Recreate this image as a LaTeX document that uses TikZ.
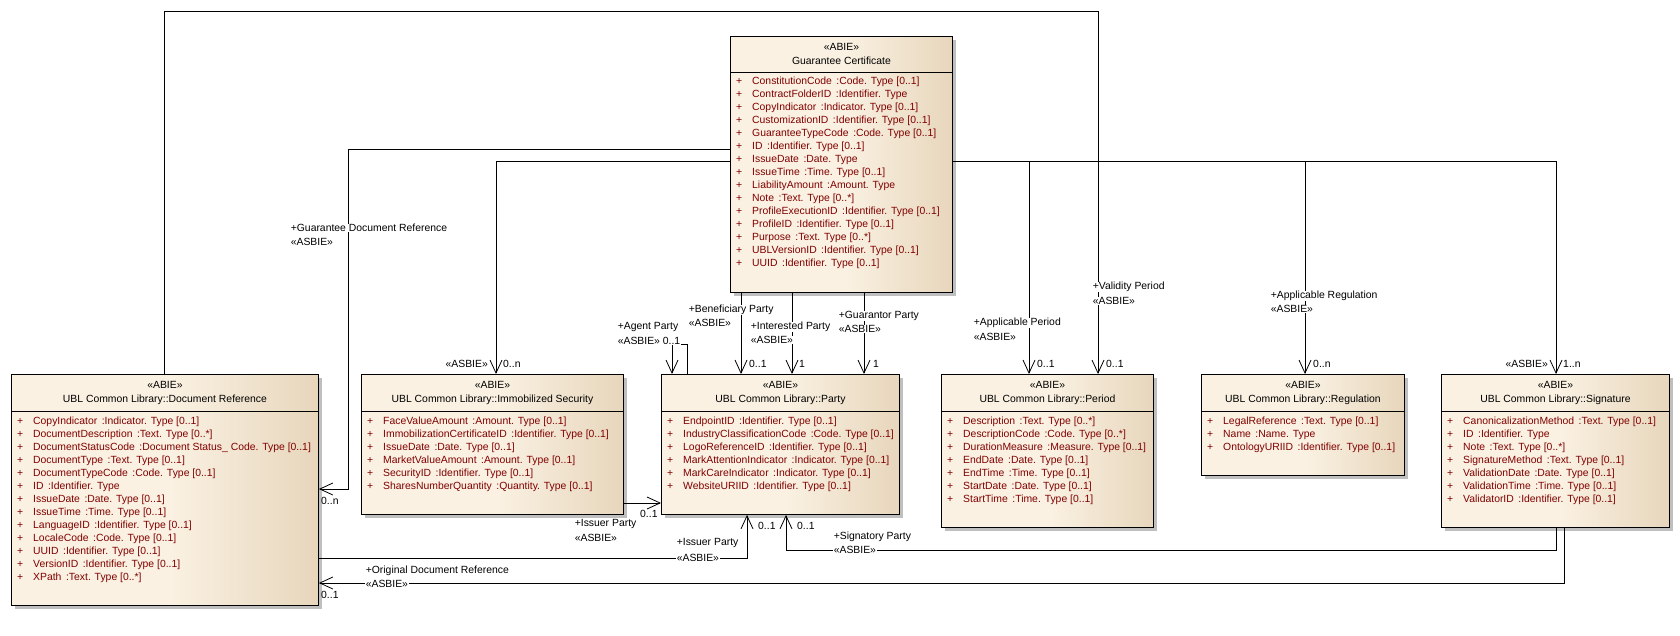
\documentclass[tikz,border=0pt]{standalone}
\usepackage{fontspec}
\setmainfont{Liberation Sans}
\usetikzlibrary{arrows.meta,shadows}
\definecolor{boxlight}{RGB}{250,241,226}
\definecolor{boxdark}{RGB}{231,214,188}
\definecolor{attrred}{RGB}{128,0,0}
\pgfdeclarehorizontalshading{classshade}{100bp}{color(0bp)=(boxlight); color(25bp)=(boxlight); color(51bp)=(boxlight); color(75bp)=(boxdark); color(100bp)=(boxdark)}
\begin{document}
\begin{tikzpicture}[x=1pt,y=-1pt,font=\fontsize{10.4}{12}\selectfont,
    classbox/.style={draw, line width=0.9pt, anchor=north west, inner sep=0pt, shade, shading=classshade,
        drop shadow={shadow xshift=4pt, shadow yshift=-4pt, fill=black!25, opacity=1}},
    attr/.style={anchor=west, inner sep=0pt, text=attrred},
    assoc/.style={line width=0.8pt, -{Straight Barb[length=13pt,width=12pt]}},
    lbl/.style={anchor=west, inner sep=0.6pt, fill=white},
    mult/.style={anchor=west, inner sep=0pt}]
    \fill[white] (0,0) rectangle (1680,635);

    % classes
    \node[classbox, minimum width=222pt, minimum height=256pt] (gc) at (730,36) {};
    \draw[line width=0.9pt] ([yshift=-36pt]gc.north west) -- ([yshift=-36pt]gc.north east);
    \node (gcst) at ([yshift=-11pt]gc.north) {«ABIE»};
    \node (gcname) at ([yshift=-25pt]gc.north) {Guarantee Certificate};
    \foreach \n/\t [count=\i] in {ConstitutionCode/Code. Type [0..1], ContractFolderID/Identifier. Type,
        CopyIndicator/Indicator. Type [0..1], CustomizationID/Identifier. Type [0..1],
        GuaranteeTypeCode/Code. Type [0..1], ID/Identifier. Type [0..1], IssueDate/Date. Type,
        IssueTime/Time. Type [0..1], LiabilityAmount/Amount. Type, Note/Text. Type [0..*],
        ProfileExecutionID/Identifier. Type [0..1], ProfileID/Identifier. Type [0..1],
        Purpose/Text. Type [0..*], UBLVersionID/Identifier. Type [0..1], UUID/Identifier. Type [0..1]}
        \node[attr] (gca\i) at ([xshift=6pt, yshift={-46pt-13pt*(\i-1)}]gc.north west) {\makebox[16pt][l]{+}\n\hspace{4.5pt}:\t};

    \node[classbox, minimum width=307pt, minimum height=231pt] (docref) at (11,374) {};
    \draw[line width=0.9pt] ([yshift=-37pt]docref.north west) -- ([yshift=-37pt]docref.north east);
    \node (docrefst) at ([yshift=-11pt]docref.north) {«ABIE»};
    \node (docrefname) at ([yshift=-26pt]docref.north) {UBL Common Library::Document Reference};
    \foreach \n/\t [count=\i] in {CopyIndicator/Indicator. Type [0..1], DocumentDescription/Text. Type [0..*],
        DocumentStatusCode/Document Status\_ Code. Type [0..1], DocumentType/Text. Type [0..1],
        DocumentTypeCode/Code. Type [0..1], ID/Identifier. Type, IssueDate/Date. Type [0..1],
        IssueTime/Time. Type [0..1], LanguageID/Identifier. Type [0..1], LocaleCode/Code. Type [0..1],
        UUID/Identifier. Type [0..1], VersionID/Identifier. Type [0..1], XPath/Text. Type [0..*]}
        \node[attr] (docrefa\i) at ([xshift=6pt, yshift={-48pt-13pt*(\i-1)}]docref.north west) {\makebox[16pt][l]{+}\n\hspace{4.5pt}:\t};

    \node[classbox, minimum width=262pt, minimum height=140pt] (immsec) at (361,374) {};
    \draw[line width=0.9pt] ([yshift=-37pt]immsec.north west) -- ([yshift=-37pt]immsec.north east);
    \node (immsecst) at ([yshift=-11pt]immsec.north) {«ABIE»};
    \node (immsecname) at ([yshift=-26pt]immsec.north) {UBL Common Library::Immobilized Security};
    \foreach \n/\t [count=\i] in {FaceValueAmount/Amount. Type [0..1], ImmobilizationCertificateID/Identifier. Type [0..1],
        IssueDate/Date. Type [0..1], MarketValueAmount/Amount. Type [0..1], SecurityID/Identifier. Type [0..1],
        SharesNumberQuantity/Quantity. Type [0..1]}
        \node[attr] (immseca\i) at ([xshift=6pt, yshift={-48pt-13pt*(\i-1)}]immsec.north west) {\makebox[16pt][l]{+}\n\hspace{4.5pt}:\t};

    \node[classbox, minimum width=238pt, minimum height=140pt] (party) at (661,374) {};
    \draw[line width=0.9pt] ([yshift=-37pt]party.north west) -- ([yshift=-37pt]party.north east);
    \node (partyst) at ([yshift=-11pt]party.north) {«ABIE»};
    \node (partyname) at ([yshift=-26pt]party.north) {UBL Common Library::Party};
    \foreach \n/\t [count=\i] in {EndpointID/Identifier. Type [0..1], IndustryClassificationCode/Code. Type [0..1],
        LogoReferenceID/Identifier. Type [0..1], MarkAttentionIndicator/Indicator. Type [0..1],
        MarkCareIndicator/Indicator. Type [0..1], WebsiteURIID/Identifier. Type [0..1]}
        \node[attr] (partya\i) at ([xshift=6pt, yshift={-48pt-13pt*(\i-1)}]party.north west) {\makebox[16pt][l]{+}\n\hspace{4.5pt}:\t};

    \node[classbox, minimum width=212pt, minimum height=153pt] (period) at (941,374) {};
    \draw[line width=0.9pt] ([yshift=-37pt]period.north west) -- ([yshift=-37pt]period.north east);
    \node (periodst) at ([yshift=-11pt]period.north) {«ABIE»};
    \node (periodname) at ([yshift=-26pt]period.north) {UBL Common Library::Period};
    \foreach \n/\t [count=\i] in {Description/Text. Type [0..*], DescriptionCode/Code. Type [0..*],
        DurationMeasure/Measure. Type [0..1], EndDate/Date. Type [0..1], EndTime/Time. Type [0..1],
        StartDate/Date. Type [0..1], StartTime/Time. Type [0..1]}
        \node[attr] (perioda\i) at ([xshift=6pt, yshift={-48pt-13pt*(\i-1)}]period.north west) {\makebox[16pt][l]{+}\n\hspace{4.5pt}:\t};

    \node[classbox, minimum width=203pt, minimum height=101pt] (regulation) at (1201,374) {};
    \draw[line width=0.9pt] ([yshift=-37pt]regulation.north west) -- ([yshift=-37pt]regulation.north east);
    \node (regulationst) at ([yshift=-11pt]regulation.north) {«ABIE»};
    \node (regulationname) at ([yshift=-26pt]regulation.north) {UBL Common Library::Regulation};
    \foreach \n/\t [count=\i] in {LegalReference/Text. Type [0..1], Name/Name. Type, OntologyURIID/Identifier. Type [0..1]}
        \node[attr] (regulationa\i) at ([xshift=6pt, yshift={-48pt-13pt*(\i-1)}]regulation.north west) {\makebox[16pt][l]{+}\n\hspace{4.5pt}:\t};

    \node[classbox, minimum width=228pt, minimum height=153pt] (signature) at (1441,374) {};
    \draw[line width=0.9pt] ([yshift=-37pt]signature.north west) -- ([yshift=-37pt]signature.north east);
    \node (signaturest) at ([yshift=-11pt]signature.north) {«ABIE»};
    \node (signaturename) at ([yshift=-26pt]signature.north) {UBL Common Library::Signature};
    \foreach \n/\t [count=\i] in {CanonicalizationMethod/Text. Type [0..1], ID/Identifier. Type, Note/Text. Type [0..*],
        SignatureMethod/Text. Type [0..1], ValidationDate/Date. Type [0..1], ValidationTime/Time. Type [0..1],
        ValidatorID/Identifier. Type [0..1]}
        \node[attr] (signaturea\i) at ([xshift=6pt, yshift={-48pt-13pt*(\i-1)}]signature.north west) {\makebox[16pt][l]{+}\n\hspace{4.5pt}:\t};

    % associations
    \draw[assoc] (gc.west |- 0,149) -- (348,149) -- (348,489) -- (docref.east |- 0,489);
    \draw[assoc] (gc.west |- 0,161) -| (immsec.north -| 496,0);
    \draw[assoc] (party.north -| 687,0) |- (672,344) -- (party.north -| 672,0);
    \draw[assoc] (gc.south -| 741,0) -- (party.north -| 741,0);
    \draw[assoc] (gc.south -| 792,0) -- (party.north -| 792,0);
    \draw[assoc] (gc.south -| 864,0) -- (party.north -| 864,0);
    \draw[assoc] (gc.east |- 0,161) -| (period.north -| 1029,0);
    \draw[assoc] (docref.north -| 164,0) |- (1098,11) -- (period.north -| 1098,0);
    \draw[assoc] (gc.east |- 0,161) -| (regulation.north -| 1305,0);
    \draw[assoc] (gc.east |- 0,161) -| (signature.north -| 1556,0);
    \draw[assoc] (immsec.east |- 0,503) -- (party.west |- 0,503);
    \draw[assoc] (docref.east |- 0,558) -| (party.south -| 747,0);
    \draw[assoc] (signature.south -| 1556,0) |- (786,550) -- (party.south -| 786,0);
    \draw[assoc] (signature.south -| 1564,0) |- (docref.east |- 0,583);

    % role labels
    \node[lbl] (gdra) at (290,228) {+Guarantee Document Reference};
    \node[lbl] (gdrb) at (290,242) {«ASBIE»};
    \node[lbl] (agenta) at (617,327) {+Agent Party};
    \node[lbl] (agentb) at (617,341) {«ASBIE» 0..1};
    \node[lbl] (benefa) at (688,310) {+Beneficiary Party};
    \node[lbl] (benefb) at (688,323) {«ASBIE»};
    \node[lbl] (interesta) at (750,327) {+Interested Party};
    \node[lbl] (interestb) at (750,340) {«ASBIE»};
    \node[lbl] (guarantora) at (838,316) {+Guarantor Party};
    \node[lbl] (guarantorb) at (838,329) {«ASBIE»};
    \node[lbl] (appperioda) at (973,323) {+Applicable Period};
    \node[lbl] (appperiodb) at (973,337) {«ASBIE»};
    \node[lbl] (validitya) at (1092,287) {+Validity Period};
    \node[lbl] (validityb) at (1092,301) {«ASBIE»};
    \node[lbl] (appregula) at (1270,296) {+Applicable Regulation};
    \node[lbl] (appregulb) at (1270,309) {«ASBIE»};
    \node[lbl] (issuera) at (574,524) {+Issuer Party};
    \node[lbl] (issuerb) at (574,538) {«ASBIE»};
    \node[lbl] (issuerdoca) at (676,543) {+Issuer Party};
    \node[lbl] (issuerdocb) at (676,558) {«ASBIE»};
    \node[lbl] (signatorya) at (833,537) {+Signatory Party};
    \node[lbl] (signatoryb) at (833,550) {«ASBIE»};
    \node[lbl] (origdoca) at (365,571) {+Original Document Reference};
    \node[lbl] (origdocb) at (365,584) {«ASBIE»};

    % multiplicities
    \node[mult] (gdrm) at (321,501) {0..n};
    \node[mult, anchor=east] (immsecs) at (488,364) {«ASBIE»};
    \node[mult] (immsecm) at (503,364) {0..n};
    \node[mult] (benefm) at (749,364) {0..1};
    \node[mult] (interestm) at (799,364) {1};
    \node[mult] (guarantorm) at (873,364) {1};
    \node[mult] (appperiodm) at (1037,364) {0..1};
    \node[mult] (validitym) at (1106,364) {0..1};
    \node[mult] (appregulm) at (1313,364) {0..n};
    \node[mult, anchor=east] (signatures) at (1548,364) {«ASBIE»};
    \node[mult] (signaturem) at (1563,364) {1..n};
    \node[mult] (issuerm) at (640,514) {0..1};
    \node[mult] (issuerdocm) at (758,526) {0..1};
    \node[mult] (signatorym) at (797,526) {0..1};
    \node[mult] (origdocm) at (321,595) {0..1};
\end{tikzpicture}
\end{document}
